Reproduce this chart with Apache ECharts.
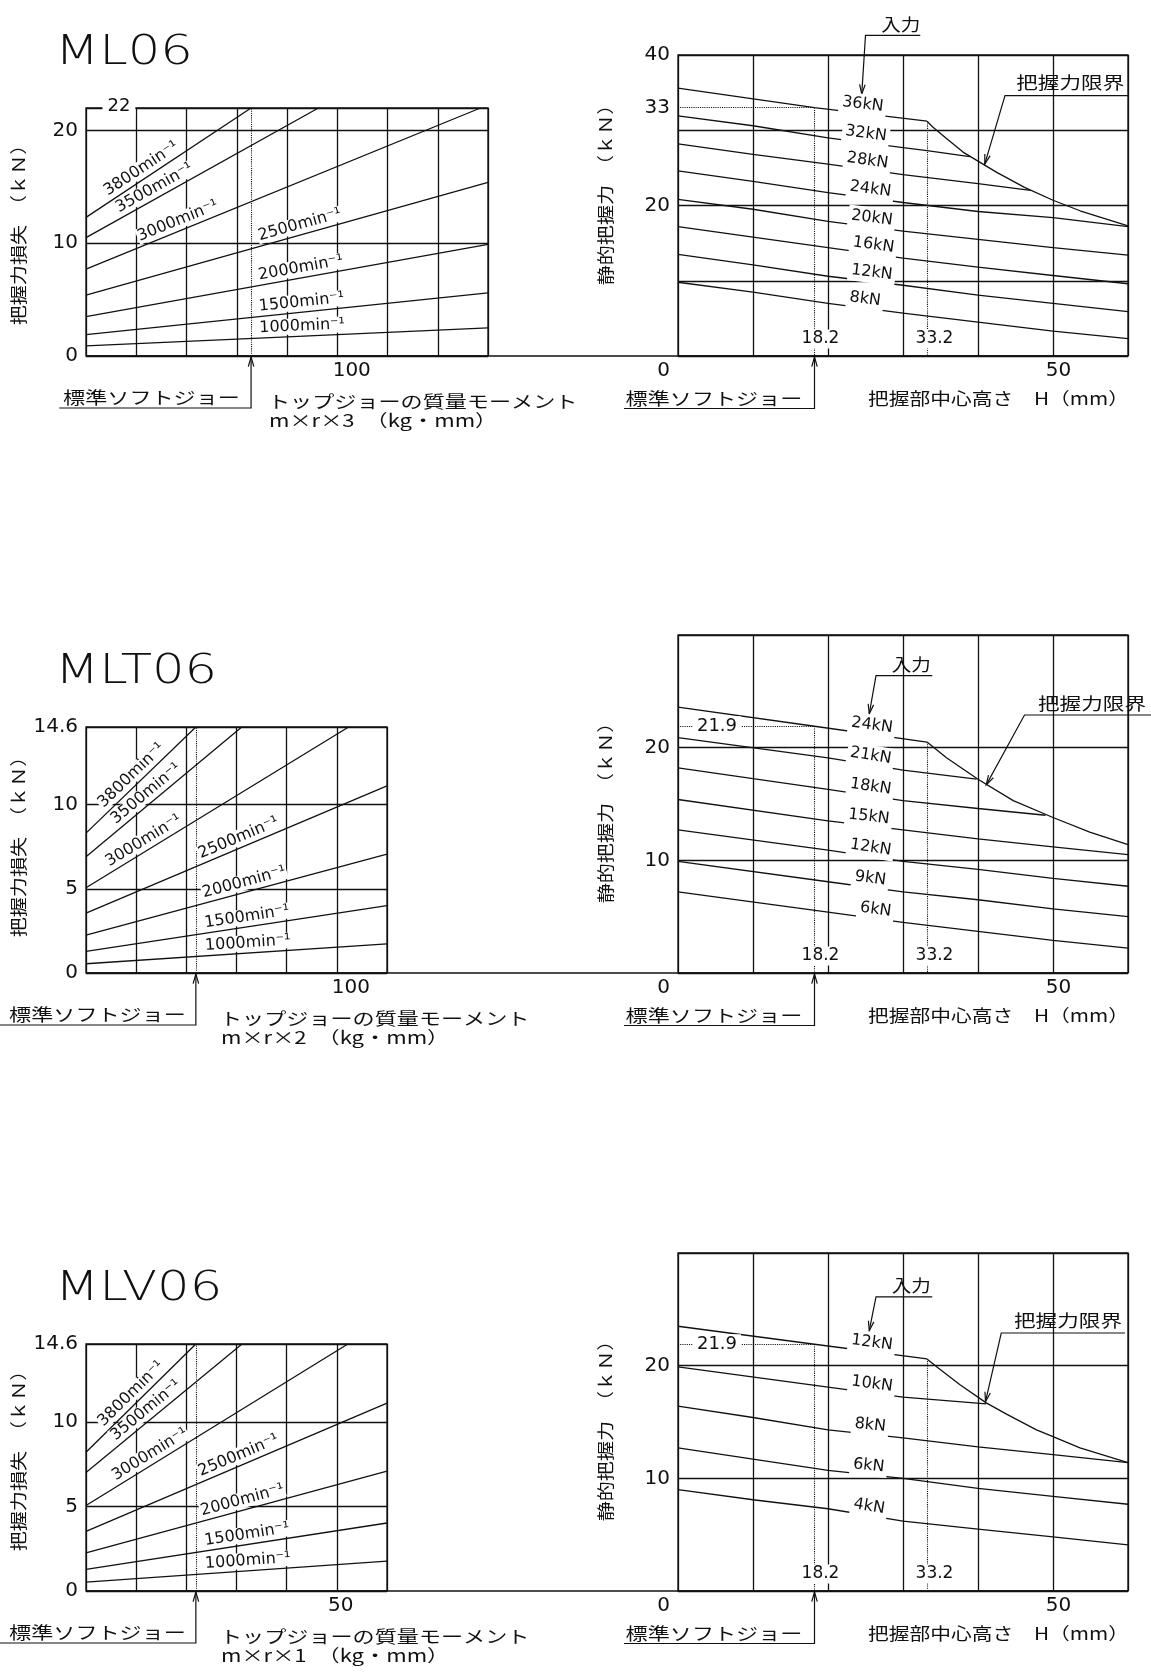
<!DOCTYPE html>
<html lang="ja">
<head>
<meta charset="utf-8">
<title>ML06 / MLT06 / MLV06</title>
<script src="https://cdn.jsdelivr.net/npm/echarts@6/dist/echarts.min.js"></script>
<style>
html,body{margin:0;padding:0;background:#fff;}
#chart{width:1151px;height:1673px;}
</style>
</head>
<body>
<div id="chart"></div>
<script>
// ======================= DATA =======================
const speedNames = ['3800min⁻¹','3500min⁻¹','3000min⁻¹','2500min⁻¹','2000min⁻¹','1500min⁻¹','1000min⁻¹'];

// Grip-force loss (kN) vs top-jaw mass moment
const ml06Loss = [
  [[0,12.3],[65.7,22]],
  [[0,10.5],[92.5,22]],
  [[0,7.7],[157,22]],
  [[0,5.4],[160,15.4]],
  [[0,3.5],[160,9.9]],
  [[0,1.9],[160,5.6]],
  [[0,0.9],[160,2.5]]
];
const mlt06Loss = [
  [[0,8.3],[43.8,14.6]],
  [[0,6.9],[62.1,14.6]],
  [[0,5.06],[104.7,14.6]],
  [[0,3.55],[120,11.1]],
  [[0,2.25],[120,7.05]],
  [[0,1.28],[120,4.0]],
  [[0,0.55],[120,1.73]]
];
const mlv06Loss = [
  [[0,8.2],[21.9,14.6]],
  [[0,7.0],[31.1,14.6]],
  [[0,5.05],[52.2,14.6]],
  [[0,3.53],[60,11.1]],
  [[0,2.25],[60,7.08]],
  [[0,1.28],[60,4.02]],
  [[0,0.53],[60,1.76]]
];
const softJawMoment = [65.7, 43.8, 21.9];   // ML06 (×3), MLT06 (×2), MLV06 (×1)
const softJawHeight = 18.2;
const limitHeight = 33.2;
const refGripText = ['33', '21.9', '21.9'];
const refGripValue = [33, 21.9, 21.9];

// Static grip force (kN) vs grip center height H (mm)
const ml06InputNames = ['36kN','32kN','28kN','24kN','20kN','16kN','12kN','8kN'];
const ml06Grip = [
  [[0,35.6],[18.2,33.0],[33.2,31.2]],
  [[0,31.9],[10,30.6],[20,29.0],[30,27.7],[33.2,27.3],[38.9,26.5]],
  [[0,28.2],[10,26.8],[20,25.5],[30,24.1],[40,22.9],[47,22.0]],
  [[0,24.6],[10,23.2],[20,21.7],[30,20.4],[40,19.2],[50,18.4],[60,17.2]],
  [[0,20.8],[10,19.5],[20,17.9],[30,16.6],[40,15.5],[50,14.4],[60,13.4]],
  [[0,17.2],[10,15.8],[20,14.4],[30,13.0],[40,11.8],[50,10.7],[60,9.6]],
  [[0,13.5],[10,12.1],[20,10.6],[30,9.4],[40,8.1],[50,7.0],[60,5.9]],
  [[0,9.8],[10,8.5],[20,7.0],[30,5.7],[40,4.5],[50,3.3],[60,2.3]]
];
const ml06Limit = [[33.2,31.2],[34,30.4],[35.8,28.9],[38,27.1],[40,25.9],[42.5,24.4],[46.2,22.4],[50,20.7],[53.6,19.3],[60,17.3]];

const mlt06InputNames = ['24kN','21kN','18kN','15kN','12kN','9kN','6kN'];
const mlt06Grip = [
  [[0,23.6],[18.2,21.9],[33.2,20.5]],
  [[0,20.9],[20,19.1],[30,18.0],[39.8,17.2]],
  [[0,18.2],[20,16.3],[30,15.3],[40,14.6],[49,14.0]],
  [[0,15.4],[20,13.5],[30,12.7],[40,11.9],[50,11.2],[60,10.5]],
  [[0,12.7],[20,10.9],[30,9.9],[40,9.2],[50,8.4],[60,7.7]],
  [[0,9.9],[20,8.1],[30,7.2],[40,6.5],[50,5.7],[60,5.0]],
  [[0,7.2],[20,5.4],[30,4.5],[40,3.7],[50,2.9],[60,2.2]]
];
const mlt06Limit = [[33.2,20.5],[35.8,19.1],[40,17.2],[44.7,15.3],[50,13.8],[54.9,12.5],[60,11.4]];

const mlv06InputNames = ['12kN','10kN','8kN','6kN','4kN'];
const mlv06Grip = [
  [[0,23.5],[18.2,21.9],[33.2,20.6]],
  [[0,19.9],[20,18.1],[30,17.2],[41.1,16.6]],
  [[0,16.4],[10,15.4],[20,14.3],[30,13.6],[40,12.8],[50,12.1],[60,11.4]],
  [[0,12.7],[10,11.7],[20,10.7],[30,10.0],[40,9.1],[50,8.4],[60,7.7]],
  [[0,9.0],[10,8.1],[20,7.3],[30,6.2],[40,5.5],[50,4.8],[60,4.1]]
];
const mlv06Limit = [[33.2,20.6],[34.7,19.8],[37.6,18.3],[41.1,16.7],[43.8,15.7],[47.8,14.3],[50,13.7],[53.6,12.7],[60,11.4]];

// ======================= LAYOUT / STYLE =======================
const INK = '#111';
const NUMF = '"DejaVu Sans", "Liberation Sans", sans-serif';
const NUMW = 'normal';
const JPF = '"Noto Sans CJK JP", "Noto Sans", sans-serif';
const JPW = 'normal';

const rows = [
  { title:'ML06', loss: ml06Loss, grip: ml06Grip, gripNames: ml06InputNames, limit: ml06Limit,
    unit:'m×r×3　（kg・mm）',
    lossBox:{left:86, top:108, width:402, height:248}, gripBox:{left:678, top:55, width:450, height:301},
    lossXMax:160, lossXInt:20, lossXShown:{100:[0,0,0,29]}, lossYMax:22, lossYInt:10, lossYShown:[0,10,20],
    gripYMax:40, gripYShown:[20,40],
    lossLabelX:[24.2,29.2,38.1,86.2,86.2,86.2,86.2], gripLabelX:[24.5,24.9,25.1,25.5,25.7,25.9,25.7,24.8],
    titleY:54, lossTitleY:230, gripTitleY:190, jawTextX:151.5, jawLineStart:59.3, xTitleX:268,
    inText:[29.7,44.1], inUL:[25.0,32.3,42.6], inTip:[24.5,34.8],
    limText:[52.3,36.3], limUL:[43.6,60,34.6], limTip:[40.9,25.5] },
  { title:'MLT06', loss: mlt06Loss, grip: mlt06Grip, gripNames: mlt06InputNames, limit: mlt06Limit,
    unit:'m×r×2　（kg・mm）',
    lossBox:{left:86, top:727, width:301, height:246}, gripBox:{left:678, top:635, width:450, height:338},
    lossXMax:120, lossXInt:20, lossXShown:{100:[0,0,0,28]}, lossYMax:14.6, lossYInt:5, lossYShown:[0,5,10,14.6],
    gripYMax:30, gripYShown:[10,20],
    lossLabelX:[20.9,26.5,25.1,62.4,64.1,64.8,64.8], gripLabelX:[25.7,25.5,25.5,25.3,25.5,25.5,26.2],
    titleY:672.5, lossTitleY:842, gripTitleY:808, jawTextX:97.5, jawLineStart:0, xTitleX:220,
    inText:[31.1,27.4], inUL:[26.4,33.9,26.4], inTip:[25.5,23.0],
    limText:[55.2,23.9], limUL:[46.2,63.5,22.9], limTip:[41.1,16.7] },
  { title:'MLV06', loss: mlv06Loss, grip: mlv06Grip, gripNames: mlv06InputNames, limit: mlv06Limit,
    unit:'m×r×1　（kg・mm）',
    lossBox:{left:86, top:1344, width:301, height:247}, gripBox:{left:678, top:1253, width:450, height:338},
    lossXMax:60, lossXInt:10, lossXShown:{50:[0,0,0,8]}, lossYMax:14.6, lossYInt:5, lossYShown:[0,5,10,14.6],
    gripYMax:30, gripYShown:[10,20],
    lossLabelX:[10.4,13.2,13.8,31.2,31.7,32.4,32.4], gripLabelX:[25.7,25.7,25.5,25.3,25.3],
    titleY:1290, lossTitleY:1456, gripTitleY:1426, jawTextX:97.5, jawLineStart:0, xTitleX:220,
    inText:[31.1,27.1], inUL:[26.4,33.9,26.1], inTip:[25.5,23.1],
    limText:[52.0,24.0], limUL:[43.1,59.6,22.9], limTip:[41.0,16.8] }
];

const chart = echarts.init(document.getElementById('chart'), null, {renderer:'canvas'});

const grids = [], xAxes = [], yAxes = [], series = [];
const AXFS = 20;

function xAx(gi, max, interval, shown) {
  const rich = {};
  Object.keys(shown).forEach(k => { rich['p' + k] = {fontSize:AXFS, fontFamily:NUMF, fontWeight:NUMW, color:INK, padding:shown[k]}; });
  return { gridIndex:gi, type:'value', min:0, max, interval,
    axisLine:{show:false}, axisTick:{show:false},
    splitLine:{show:true, lineStyle:{color:INK, width:1.3}},
    axisLabel:{margin:5, color:INK, fontSize:AXFS, fontFamily:NUMF, fontWeight:NUMW,
      formatter: v => (shown[v] ? '{p' + v + '|' + v + '}' : ''), rich } };
}
function yAx(gi, max, interval, shown) {
  return { gridIndex:gi, type:'value', min:0, max, interval,
    axisLine:{show:false}, axisTick:{show:false},
    splitLine:{show:true, lineStyle:{color:INK, width:1.3}},
    axisLabel:{margin:8, color:INK, fontSize:AXFS, fontFamily:NUMF, fontWeight:NUMW,
      formatter: v => (shown.indexOf(v) >= 0 ? String(v) : '') } };
}
function lineS(gi, data, name, extra) {
  return Object.assign({ type:'line', name, xAxisIndex:gi, yAxisIndex:gi, data,
    showSymbol:false, symbol:'none', silent:true, clip:true, z:3,
    lineStyle:{color:INK, width:1.3} }, extra || {});
}
const dotted = {type:'dotted', color:INK, width:1.1};

rows.forEach((r, i) => {
  const gL = 2 * i, gR = 2 * i + 1;
  grids.push(Object.assign({show:true, borderColor:INK, borderWidth:1.3}, r.lossBox));
  grids.push(Object.assign({show:true, borderColor:INK, borderWidth:1.3}, r.gripBox));
  xAxes.push(xAx(gL, r.lossXMax, r.lossXInt, r.lossXShown));
  xAxes.push(xAx(gR, 60, 10, {0:[0,29,0,0], 50:[0,0,0,11]}));
  yAxes.push(yAx(gL, r.lossYMax, r.lossYInt, r.lossYShown));
  yAxes.push(yAx(gR, r.gripYMax, 10, r.gripYShown));

  r.loss.forEach((d, k) => {
    const extra = k === 0 ? { markLine:{ silent:true, symbol:['none','none'], label:{show:false}, lineStyle:dotted,
      data:[[{coord:[softJawMoment[i], 0]}, {coord:[softJawMoment[i], r.lossYMax]}]] } } : null;
    series.push(lineS(gL, d, speedNames[k], extra));
  });
  r.grip.forEach((d, k) => {
    const top = r.grip[0];
    const kink = top[top.length - 1];
    const extra = k === 0 ? { markLine:{ silent:true, symbol:['none','none'], label:{show:false}, lineStyle:dotted,
      data:[
        [{coord:[0, refGripValue[i]]}, {coord:[softJawHeight, refGripValue[i]]}],
        [{coord:[softJawHeight, refGripValue[i]]}, {coord:[softJawHeight, 0]}],
        [{coord:[limitHeight, kink[1]]}, {coord:[limitHeight, 0]}]
      ] } } : null;
    series.push(lineS(gR, d, r.gripNames[k], extra));
  });
  series.push(lineS(gR, r.limit, '把握力限界'));
});

chart.setOption({
  animation:false,
  backgroundColor:'#fff',
  textStyle:{fontFamily:NUMF, color:INK},
  grid:grids, xAxis:xAxes, yAxis:yAxes, series
});

// ======================= ANNOTATIONS =======================
function P(gi, x, y) { return chart.convertToPixel({xAxisIndex:gi, yAxisIndex:gi}, [x, y]); }
function T(x, y, text, o) {
  o = o || {};
  const st = { text, fill:INK, fontSize:o.fs || 16, fontFamily:o.ff || NUMF, fontWeight:o.fw || NUMW,
    align:o.align || 'center', verticalAlign:o.va || 'middle',
    textAlign:o.align || 'center', textVerticalAlign:o.va || 'middle' };
  if (o.bg) { st.backgroundColor = o.bg; st.padding = o.pad || [0, 2]; }
  return { type:'text', x, y, z:100, silent:true, rotation:o.rot || 0, scaleX:o.sx || 1, scaleY:o.sy || 1, style:st };
}
function L(points, w) {
  return { type:'polyline', z:90, silent:true, shape:{points}, style:{stroke:INK, lineWidth:w || 1.2, fill:null} };
}
function arrow(tip, from) {
  const a = Math.atan2(from[1] - tip[1], from[0] - tip[0]), len = 10, s = 0.28;
  return L([[tip[0] + len * Math.cos(a + s), tip[1] + len * Math.sin(a + s)], tip,
            [tip[0] + len * Math.cos(a - s), tip[1] + len * Math.sin(a - s)]]);
}
function onPath(gi, pts, x) {
  const px = pts.map(p => P(gi, p[0], p[1]));
  const xp = P(gi, x, 0)[0];
  let a = px[px.length - 2], b = px[px.length - 1];
  for (let k = 0; k < px.length - 1; k++) {
    if (xp >= px[k][0] && xp <= px[k + 1][0]) { a = px[k]; b = px[k + 1]; break; }
  }
  const t = (xp - a[0]) / (b[0] - a[0]);
  return { pt:[xp, a[1] + t * (b[1] - a[1])], ang:Math.atan2(a[1] - b[1], b[0] - a[0]) };
}
function curveLabel(gi, pts, x, text, d, fs, pad) {
  const o = onPath(gi, pts, x);
  const c = [o.pt[0] - d * Math.sin(o.ang), o.pt[1] - d * Math.cos(o.ang)];
  return T(c[0], c[1], text, {fs, rot:o.ang, bg:'#fff', pad});
}

const G = [];
rows.forEach((r, i) => {
  const gL = 2 * i, gR = 2 * i + 1;
  const o0 = P(gL, 0, 0), oR = P(gR, 60, 0);
  const axisY = o0[1], axisYR = oR[1];

  // continuous base line
  G.push(L([o0, oR], 1.3));

  // title
  G.push(T(55, r.titleY, r.title, {fs:40, align:'left', sx:1.28, fw:200}));

  // axis titles
  G.push(T(19, r.lossTitleY, '把握力損失　（ｋＮ）', {ff:JPF, fw:JPW, fs:17, rot:Math.PI / 2, sx:1.18}));
  G.push(T(606, r.gripTitleY, '静的把握力　（ｋＮ）', {ff:JPF, fw:JPW, fs:17, rot:Math.PI / 2, sx:1.18}));

  // loss curve labels
  r.loss.forEach((d, k) => G.push(curveLabel(gL, d, r.lossLabelX[k], speedNames[k], 10, 16, [0, 1])));
  // grip curve labels
  r.grip.forEach((d, k) => G.push(curveLabel(gR, d, r.gripLabelX[k], r.gripNames[k], 9, 16, [5, 3, 0, 3])));

  // special values
  if (i === 0) {
    const p22 = P(gL, 13.1, 22);
    G.push(T(p22[0], p22[1] - 2, '22', {fs:18, bg:'#fff', pad:[1, 5]}));
    const p33 = P(gR, 0, refGripValue[i]);
    G.push(T(p33[0] - 8, p33[1], refGripText[i], {fs:AXFS, align:'right'}));
  } else {
    const pr = P(gR, 5.2, refGripValue[i]);
    G.push(T(pr[0], pr[1], refGripText[i], {fs:18, bg:'#fff', pad:[1, 4]}));
  }
  const p182 = P(gR, 19.0, 0), p332 = P(gR, 34.2, 0);
  G.push(T(p182[0], p182[1] - 17, String(softJawHeight), {fs:17, bg:'#fff', pad:[1, 3]}));
  G.push(T(p332[0], p332[1] - 17, String(limitHeight), {fs:17, bg:'#fff', pad:[1, 3]}));

  // standard soft jaw (left chart)
  const sj = P(gL, softJawMoment[i], 0);
  G.push(T(r.jawTextX, axisY + 42, '標準ソフトジョー', {ff:JPF, fw:JPW, fs:17, sx:1.3}));
  G.push(L([[r.jawLineStart, axisY + 52], [sj[0], axisY + 52], [sj[0], axisY + 1]]));
  G.push(arrow([sj[0], axisY + 1], [sj[0], axisY + 52]));
  G.push(T(r.xTitleX, axisY + 46, 'トップジョーの質量モーメント', {ff:JPF, fw:JPW, fs:17, sx:1.3, align:'left'}));
  G.push(T(r.xTitleX + 1, axisY + 65, r.unit, {ff:JPF, fw:JPW, fs:17, sx:1.3, align:'left'}));

  // standard soft jaw (right chart)
  const sr = P(gR, softJawHeight, 0);
  G.push(T(714, axisYR + 43, '標準ソフトジョー', {ff:JPF, fw:JPW, fs:17, sx:1.3}));
  G.push(L([[624, axisYR + 52.5], [sr[0], axisYR + 52.5], [sr[0], axisYR + 1]]));
  G.push(arrow([sr[0], axisYR + 1], [sr[0], axisYR + 52.5]));
  G.push(T(868, axisYR + 43, '把握部中心高さ　H（mm）', {ff:JPF, fw:JPW, fs:17, sx:1.22, align:'left'}));

  // 入力 annotation
  const it = P(gR, r.inText[0], r.inText[1]);
  const u1 = P(gR, r.inUL[0], r.inUL[2]), u2 = P(gR, r.inUL[1], r.inUL[2]);
  const tp = P(gR, r.inTip[0], r.inTip[1]);
  G.push(T(it[0], it[1], '入力', {ff:JPF, fw:JPW, fs:17, sx:1.15}));
  G.push(L([u2, u1, tp]));
  G.push(arrow(tp, u1));

  // 把握力限界 annotation
  const lt = P(gR, r.limText[0], r.limText[1]);
  const l1 = P(gR, r.limUL[0], r.limUL[2]), l2 = P(gR, r.limUL[1], r.limUL[2]);
  const lp = P(gR, r.limTip[0], r.limTip[1]);
  G.push(T(lt[0], lt[1], '把握力限界', {ff:JPF, fw:JPW, fs:17, sx:1.27}));
  G.push(L([l2, l1, lp]));
  G.push(arrow(lp, l1));
});

chart.setOption({graphic:{elements:G}});
</script>
</body>
</html>
